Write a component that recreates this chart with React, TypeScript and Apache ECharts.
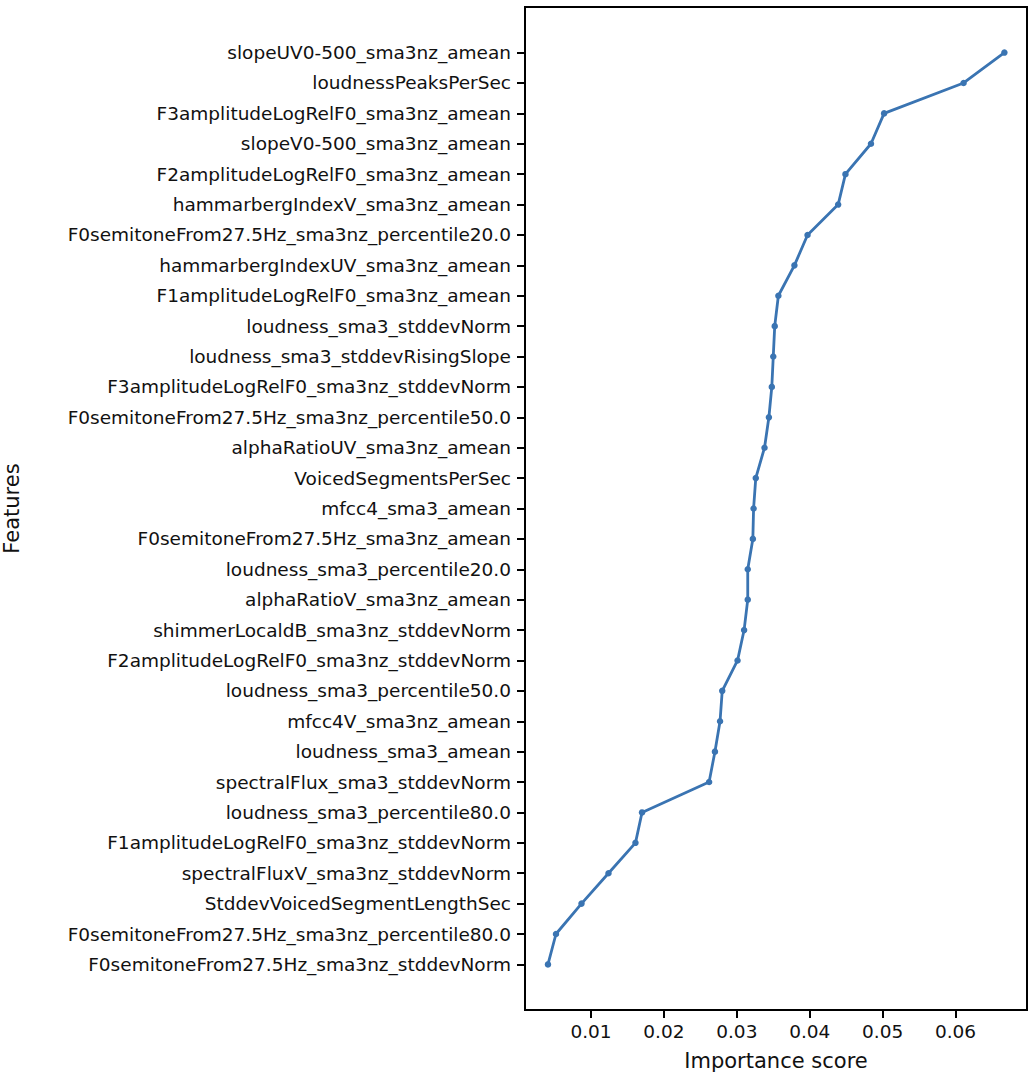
import React, { useEffect, useRef } from "react";
import * as echarts from "echarts";

const features = [
  "slopeUV0-500_sma3nz_amean",
  "loudnessPeaksPerSec",
  "F3amplitudeLogRelF0_sma3nz_amean",
  "slopeV0-500_sma3nz_amean",
  "F2amplitudeLogRelF0_sma3nz_amean",
  "hammarbergIndexV_sma3nz_amean",
  "F0semitoneFrom27.5Hz_sma3nz_percentile20.0",
  "hammarbergIndexUV_sma3nz_amean",
  "F1amplitudeLogRelF0_sma3nz_amean",
  "loudness_sma3_stddevNorm",
  "loudness_sma3_stddevRisingSlope",
  "F3amplitudeLogRelF0_sma3nz_stddevNorm",
  "F0semitoneFrom27.5Hz_sma3nz_percentile50.0",
  "alphaRatioUV_sma3nz_amean",
  "VoicedSegmentsPerSec",
  "mfcc4_sma3_amean",
  "F0semitoneFrom27.5Hz_sma3nz_amean",
  "loudness_sma3_percentile20.0",
  "alphaRatioV_sma3nz_amean",
  "shimmerLocaldB_sma3nz_stddevNorm",
  "F2amplitudeLogRelF0_sma3nz_stddevNorm",
  "loudness_sma3_percentile50.0",
  "mfcc4V_sma3nz_amean",
  "loudness_sma3_amean",
  "spectralFlux_sma3_stddevNorm",
  "loudness_sma3_percentile80.0",
  "F1amplitudeLogRelF0_sma3nz_stddevNorm",
  "spectralFluxV_sma3nz_stddevNorm",
  "StddevVoicedSegmentLengthSec",
  "F0semitoneFrom27.5Hz_sma3nz_percentile80.0",
  "F0semitoneFrom27.5Hz_sma3nz_stddevNorm",
];

const scores = [
  0.0667, 0.0611, 0.0502, 0.0484, 0.0449, 0.0439, 0.0397, 0.0379, 0.0357,
  0.0352, 0.035, 0.0348, 0.0344, 0.0338, 0.0326, 0.0323, 0.0322, 0.0315,
  0.0315, 0.031, 0.0301, 0.028, 0.0277, 0.027, 0.0262, 0.017, 0.0161, 0.0124,
  0.0087, 0.0052, 0.0041,
];

const xTicks = [0.01, 0.02, 0.03, 0.04, 0.05, 0.06];

export default function App() {
  const ref = useRef<HTMLDivElement>(null);

  useEffect(() => {
    if (!ref.current) return;
    const chart = echarts.init(ref.current, undefined, { renderer: "svg" });
    // pad with empty categories so the first/last points sit 1.5 bands from the frame
    const cats = ["", ...features, ""];
    const data = ["-", ...scores, "-"];
    const font = "DejaVu Sans";
    chart.setOption({
      animation: false,
      textStyle: { fontFamily: font },
      grid: {
        left: 522,
        right: 7,
        top: 7,
        bottom: 64,
        show: true,
        borderColor: "#000",
        borderWidth: 2,
      },
      xAxis: {
        type: "value",
        min: 0.00095,
        max: 0.0698,
        splitLine: { show: false },
        axisLine: { show: false },
        axisTick: {
          show: true,
          length: 8,
          customValues: xTicks,
          lineStyle: { color: "#000", width: 2 },
        },
        axisLabel: {
          color: "#111",
          fontSize: 18.5,
          fontFamily: font,
          margin: 12,
          customValues: xTicks,
          formatter: (v: number) => v.toFixed(2),
        },
        name: "Importance score",
        nameLocation: "middle",
        nameGap: 40,
        nameTextStyle: { color: "#111", fontSize: 21, fontFamily: font },
      },
      yAxis: {
        type: "category",
        inverse: true,
        data: cats,
        boundaryGap: true,
        axisLine: { show: false },
        axisTick: {
          show: true,
          alignWithLabel: true,
          length: 8,
          interval: (i: number) => i > 0 && i < cats.length - 1,
          lineStyle: { color: "#000", width: 2 },
        },
        axisLabel: {
          interval: 0,
          color: "#111",
          fontSize: 18.5,
          fontFamily: font,
          margin: 14,
        },
        name: "Features",
        nameLocation: "middle",
        nameGap: 503,
        nameRotate: 90,
        nameTextStyle: { color: "#111", fontSize: 21, fontFamily: font },
      },
      series: [
        {
          type: "line",
          data,
          symbol: "circle",
          symbolSize: 6.5,
          lineStyle: { color: "#3a74b2", width: 2.8 },
          itemStyle: { color: "#3a74b2" },
        },
      ],
    });
    return () => chart.dispose();
  }, []);

  return (
    <div
      ref={ref}
      style={{ position: "fixed", left: 0, top: 0, width: 1034, height: 1076, background: "#fff" }}
    />
  );
}
